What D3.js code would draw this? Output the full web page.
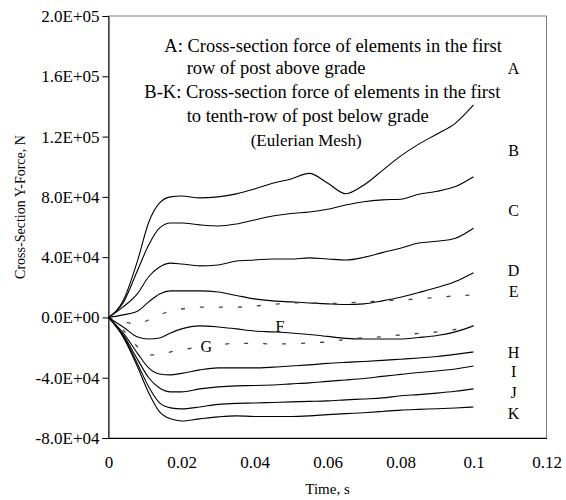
<!DOCTYPE html>
<html>
<head>
<meta charset="utf-8">
<script src="https://cdn.jsdelivr.net/npm/d3@7"></script>
<style>
  body { margin: 0; background: #fff; }
  text { font-family: "Liberation Serif", "Times New Roman", serif; fill: #000; }
</style>
</head>
<body>
<div id="chart"></div>
<script>
// time samples (s)
const timeS = [0, 0.004, 0.008, 0.011, 0.014, 0.017, 0.02, 0.025, 0.03, 0.035, 0.04, 0.045,
  0.05, 0.055, 0.06, 0.065, 0.07, 0.075, 0.08, 0.085, 0.09, 0.095, 0.1];

// cross-section Y-force (N)
const forceA = [0, 11000, 38000, 63000, 76000, 80000, 80600, 79300, 80000, 82000, 85200, 89000,
  91900, 95600, 89200, 82100, 87900, 97400, 107000, 115000, 121700, 128800, 141000];
const forceB = [0, 9600, 31500, 48000, 59400, 62700, 62700, 61400, 60700, 62000, 64700, 67300,
  69000, 70000, 71800, 74600, 76800, 78000, 78400, 81700, 83700, 86800, 93400];
const forceC = [0, 7000, 16000, 27000, 33500, 36000, 35500, 34200, 34800, 37400, 38100, 38800,
  38800, 39500, 38800, 38100, 39900, 43000, 45900, 49400, 50500, 52500, 59200];
const forceD = [0, 1700, 4300, 10300, 15600, 17600, 17600, 17600, 16900, 14600, 12300, 11000,
  10300, 9600, 9000, 8600, 9000, 11000, 13400, 16500, 19800, 23800, 29700];
const forceE = [0, -3000, -4300, -1700, 1700, 4300, 5600, 6800, 6800, 6800, 7600, 8600,
  9600, 9600, 9300, 9600, 10300, 11000, 11600, 12300, 13300, 14300, 14900];
const forceF = [0, -6300, -13000, -14300, -13600, -10300, -7600, -5600, -6300, -7600, -9000, -9600,
  -10300, -11300, -12600, -13900, -14300, -14300, -14300, -13300, -12000, -9600, -5600];
const forceG = [0, -8300, -19600, -24900, -24900, -22900, -21600, -19600, -18200, -17200, -17200, -17600,
  -17600, -16900, -16300, -14600, -13400, -12900, -11600, -10600, -9600, -8000, -5600];
const forceH = [0, -10300, -24000, -33500, -37500, -38100, -37100, -34800, -33500, -33500, -33500, -33000,
  -32200, -31500, -30500, -29800, -29200, -28500, -27700, -26900, -25900, -24500, -22900];
const forceI = [0, -11600, -28000, -40000, -46800, -49400, -49400, -47400, -46100, -45400, -45200, -44800,
  -44100, -43400, -42400, -41500, -40500, -39100, -37800, -36500, -35500, -34200, -32200];
const forceJ = [0, -12300, -31000, -46000, -56700, -60000, -60700, -59400, -57700, -57000, -56800, -56400,
  -56000, -55700, -55400, -54700, -54100, -53400, -52000, -51200, -50200, -49000, -47400];
const forceK = [0, -12900, -33000, -50000, -62700, -67300, -68700, -67300, -66000, -65300, -65700, -65700,
  -65700, -65300, -64500, -63800, -63200, -62400, -61500, -61000, -60600, -60100, -59400];

const seriesNames = ["A", "B", "C", "D", "E", "F", "G", "H", "I", "J", "K"];
const seriesValues = [forceA, forceB, forceC, forceD, forceE, forceF, forceG, forceH, forceI, forceJ, forceK];
const dashedSeries = ["E", "G"];

const xTicks = [0, 0.02, 0.04, 0.06, 0.08, 0.1, 0.12];
const yTicks = [-80000, -40000, 0, 40000, 80000, 120000, 160000, 200000];

// curve letters at the right edge, with the value they sit at
const rightLabels = ["A", "B", "C", "D", "E", "H", "I", "J", "K"];
const rightLabelValues = [165000, 111000, 71000, 31000, 17000, -23500, -36000, -50000, -63500];

const noteLines = [
  "A: Cross-section force of elements in the first",
  "row of post above grade",
  "B-K: Cross-section force of elements in the first",
  "to tenth-row of post below grade",
  "(Eulerian Mesh)"
];

const W = 566, H = 500;
const margin = {top: 16, right: 19.5, bottom: 62, left: 108.5};
const width = W - margin.left - margin.right;
const height = H - margin.top - margin.bottom;

const svg = d3.select("#chart").append("svg")
  .attr("width", W)
  .attr("height", H);

const g = svg.append("g")
  .attr("transform", "translate(" + margin.left + "," + margin.top + ")");

const x = d3.scaleLinear().domain([0, 0.12]).range([0, width]);
const y = d3.scaleLinear().domain([-80000, 200000]).range([height, 0]);

function sciFormat(d) {
  if (d === 0) return "0.0E+00";
  var e = Math.floor(Math.log10(Math.abs(d)));
  var m = d / Math.pow(10, e);
  return m.toFixed(1) + "E" + (e < 0 ? "-" : "+") + String(Math.abs(e)).padStart(2, "0");
}

// plot frame (grey top/right)
g.append("rect")
  .attr("x", 0).attr("y", 0)
  .attr("width", width).attr("height", height)
  .attr("fill", "none")
  .attr("stroke", "#808080")
  .attr("stroke-width", 1);

// Y axis
const yAxis = g.append("g")
  .call(d3.axisLeft(y).tickValues(yTicks).tickFormat(sciFormat).tickSize(6).tickPadding(3));
yAxis.select(".domain").attr("stroke", "#000");
yAxis.selectAll("text").style("font-size", "17px").style("font-family", "Liberation Serif");

// X axis, no tick marks
const xAxis = g.append("g")
  .attr("transform", "translate(0," + height + ")")
  .call(d3.axisBottom(x).tickValues(xTicks).tickFormat(d3.format("~g")).tickSize(0).tickPadding(18));
xAxis.select(".domain").attr("stroke", "#000");
xAxis.selectAll("text").style("font-size", "17px").style("font-family", "Liberation Serif");

// curves
const line = d3.line()
  .x(function(d) { return x(d[0]); })
  .y(function(d) { return y(d[1]); })
  .curve(d3.curveMonotoneX);

seriesNames.forEach(function(name, i) {
  var pts = timeS.map(function(t, j) { return [t, seriesValues[i][j]]; });
  var dashed = dashedSeries.indexOf(name) >= 0;
  g.append("path")
    .datum(pts)
    .attr("fill", "none")
    .attr("stroke", dashed ? "#444" : "#000")
    .attr("stroke-width", dashed ? 1.3 : 1.1)
    .attr("stroke-dasharray", dashed ? "4,15" : null)
    .attr("d", line);
});

// curve letters
rightLabels.forEach(function(l, i) {
  g.append("text")
    .attr("x", x(0.111))
    .attr("y", y(rightLabelValues[i]))
    .attr("dy", "0.35em")
    .attr("text-anchor", "middle")
    .style("font-size", "16px")
    .text(l);
});

// F and G inline labels
g.append("rect")
  .attr("x", x(0.0255)).attr("y", y(-19500) - 8)
  .attr("width", 14).attr("height", 16)
  .attr("fill", "#fff");
g.append("text")
  .attr("x", x(0.0268)).attr("y", y(-19500))
  .attr("dy", "0.35em").attr("text-anchor", "middle")
  .style("font-size", "16px").text("G");
g.append("text")
  .attr("x", x(0.047)).attr("y", y(-6200))
  .attr("dy", "0.35em").attr("text-anchor", "middle")
  .style("font-size", "16px").text("F");

// note text
const noteX = [164.3, 186.7, 144.3, 186.7, 250.7];
const noteY = [51.7, 74, 98.3, 121.7, 145.5];
noteLines.forEach(function(s, i) {
  svg.append("text")
    .attr("x", noteX[i])
    .attr("y", noteY[i])
    .style("font-size", i === 4 ? "17px" : "18.5px")
    .text(s);
});

// axis titles
svg.append("text")
  .attr("x", margin.left + x(0.06))
  .attr("y", 494)
  .attr("text-anchor", "middle")
  .style("font-size", "15px")
  .text("Time, s");

svg.append("g")
  .attr("transform", "translate(20,207)")
  .append("text")
  .attr("text-anchor", "middle")
  .attr("dy", "0.35em")
  .attr("transform", "rotate(-90)")
  .style("font-size", "14px")
  .text("Cross-Section Y-Force, N");
</script>
</body>
</html>
